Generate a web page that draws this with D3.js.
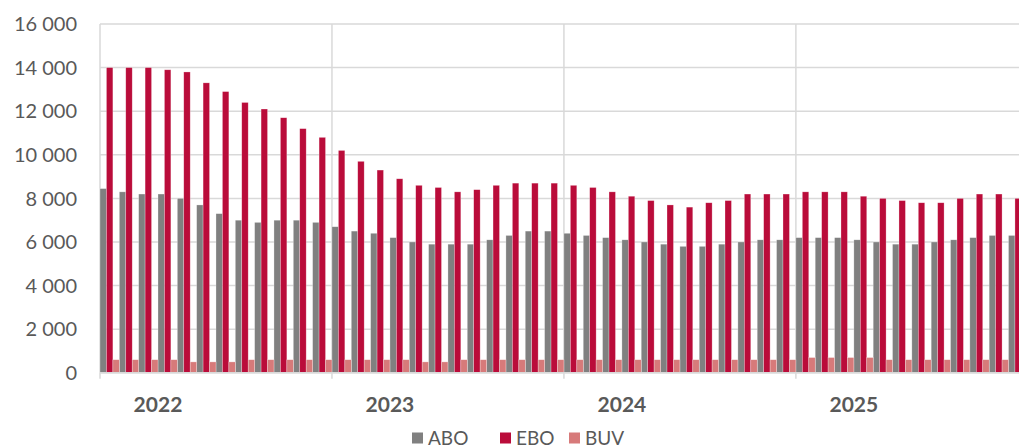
<!DOCTYPE html>
<html>
<head>
<meta charset="utf-8">
<script src="https://cdn.jsdelivr.net/npm/d3@7"></script>
<style>
	body { margin: 0; background: #fff; }
	svg { display: block; font-family: Lato, "Open Sans", sans-serif; }
</style>
</head>
<body>
<svg id="chart" width="1019" height="448"></svg>
<script>
// monthly values, Jan 2022 - Dec 2025
var years = ['2022', '2023', '2024', '2025'];
var series = ['ABO', 'EBO', 'BUV'];

var abo = [8450, 8300, 8200, 8200, 8000, 7700, 7300, 7000, 6900, 7000, 7000, 6900,
	6700, 6500, 6400, 6200, 6000, 5900, 5900, 5900, 6100, 6300, 6500, 6500,
	6400, 6300, 6200, 6100, 6000, 5900, 5800, 5800, 5900, 6000, 6100, 6100,
	6200, 6200, 6200, 6100, 6000, 5900, 5900, 6000, 6100, 6200, 6300, 6300];
var ebo = [14000, 14000, 14000, 13900, 13800, 13300, 12900, 12400, 12100, 11700, 11200, 10800,
	10200, 9700, 9300, 8900, 8600, 8500, 8300, 8400, 8600, 8700, 8700, 8700,
	8600, 8500, 8300, 8100, 7900, 7700, 7600, 7800, 7900, 8200, 8200, 8200,
	8300, 8300, 8300, 8100, 8000, 7900, 7800, 7800, 8000, 8200, 8200, 8000];
var buv = [600, 600, 600, 600, 500, 500, 500, 600, 600, 600, 600, 600,
	600, 600, 600, 600, 500, 500, 600, 600, 600, 600, 600, 600,
	600, 600, 600, 600, 600, 600, 600, 600, 600, 600, 600, 600,
	700, 700, 700, 700, 600, 600, 600, 600, 600, 600, 600, 600];
var yTicks = [0, 2000, 4000, 6000, 8000, 10000, 12000, 14000, 16000];

var colors = {ABO: '#808080', EBO: '#ba0c3a', BUV: '#d77a7a'};
var gridColor = '#d9d9d9';
var textColor = '#595959';

var months = abo.map(function(d, i){ return i; });
var values = {ABO: abo, EBO: ebo, BUV: buv};

// note: "top" is taken by window.top
var plotLeft = 100, plotTop = 24, plotBottom = 372.8, step = 19.33;

var svg = d3.select('#chart');

var x = d3.scaleBand().domain(months).range([plotLeft, plotLeft + step*months.length]).padding(0);
var xs = d3.scaleBand().domain(series).range([0, x.bandwidth()]).padding(0);
var y = d3.scaleLinear().domain([0, 16000]).range([plotBottom, plotTop]);

var fmt = d3.formatLocale({decimal: ',', thousands: '\u00a0', grouping: [3], currency: ['', '']}).format(',');

// horizontal grid
svg.append('g').selectAll('line').data(yTicks).enter().append('line')
	.attr('x1', plotLeft).attr('x2', 1019)
	.attr('y1', function(d){ return y(d); })
	.attr('y2', function(d){ return y(d); })
	.attr('stroke', gridColor).attr('stroke-width', 1.5);

// vertical year lines
var yearStarts = years.map(function(d, i){ return x(i*12); });
svg.append('g').selectAll('line').data(yearStarts).enter().append('line')
	.attr('x1', function(d){ return d; }).attr('x2', function(d){ return d; })
	.attr('y1', plotTop).attr('y2', plotBottom + 6)
	.attr('stroke', gridColor).attr('stroke-width', 1.5);

// y labels
svg.append('g').selectAll('text').data(yTicks).enter().append('text')
	.attr('x', 77)
	.attr('y', function(d){ return y(d); })
	.attr('dy', '0.36em')
	.attr('text-anchor', 'end')
	.attr('font-size', 20)
	.attr('fill', textColor)
	.text(function(d){ return fmt(d); });

// bars
series.forEach(function(s){
	svg.append('g').selectAll('rect').data(values[s]).enter().append('rect')
		.attr('x', function(d, i){ return x(i) + xs(s); })
		.attr('width', xs.bandwidth())
		.attr('y', function(d){ return y(d); })
		.attr('height', function(d){ return plotBottom - y(d); })
		.attr('fill', colors[s])
		.attr('stroke', '#fff').attr('stroke-opacity', 0.45).attr('stroke-width', 0.6);
});

// x axis line
svg.append('line')
	.attr('x1', plotLeft).attr('x2', 1019)
	.attr('y1', plotBottom).attr('y2', plotBottom)
	.attr('stroke', gridColor).attr('stroke-width', 1.5);

// year labels
svg.append('g').selectAll('text').data(years).enter().append('text')
	.attr('x', function(d, i){ return x(i*12 + 3); })
	.attr('y', 411.5)
	.attr('text-anchor', 'middle')
	.attr('font-size', 21)
	.attr('font-weight', 'bold')
	.attr('fill', textColor)
	.text(function(d){ return d; });

// legend
var legendX = [412, 500, 569];
var lg = svg.append('g').selectAll('g').data(series).enter().append('g')
	.attr('transform', function(d, i){ return 'translate(' + legendX[i] + ',0)'; });
lg.append('rect')
	.attr('x', 0).attr('y', 432.5)
	.attr('width', 11).attr('height', 11)
	.attr('fill', function(d){ return colors[d]; });
lg.append('text')
	.attr('x', 16).attr('y', 444.5)
	.attr('font-size', 19)
	.attr('fill', textColor)
	.text(function(d){ return d; });
</script>
</body>
</html>
